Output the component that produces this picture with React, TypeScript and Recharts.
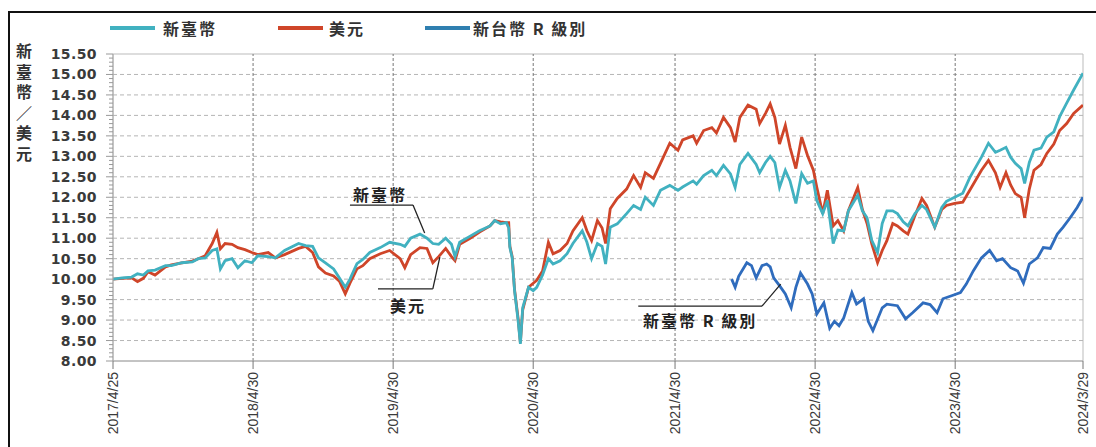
import React from 'react';
import { LineChart, Line, XAxis, YAxis, ReferenceLine, ReferenceArea, ReferenceDot } from 'recharts';

// x positions: months since 2017/4/25
const months = [
  0, 0.8, 1.6, 2.1, 2.6, 3.0, 3.6, 4.5, 5.0, 5.9,
  6.8, 7.3, 7.9, 8.5, 8.9, 9.2, 9.6, 10.2, 10.7, 11.3,
  11.9, 12.4, 13.3, 13.9, 14.7, 15.9, 16.5, 17.1, 17.6, 18.2,
  18.9, 19.4, 19.9, 20.3, 20.9, 21.4, 22.0, 22.9, 23.7, 24.6,
  25.0, 25.5, 26.3, 26.9, 27.4, 27.9, 28.5, 29.0, 29.3, 29.7,
  30.6, 31.4, 32.3, 32.7, 33.2, 33.7, 33.9, 34.0, 34.2, 34.4,
  34.7, 34.9, 35.1, 35.6, 36.0, 36.3, 36.8, 37.3, 37.7, 38.3,
  38.9, 39.4, 40.2, 40.6, 41.0, 41.5, 41.9, 42.2, 42.6, 43.2,
  44.0, 44.6, 45.2, 45.6, 46.3, 46.9, 47.7, 48.4, 48.8, 49.7,
  50.0, 50.6, 51.3, 51.7, 52.3, 52.9, 53.3, 53.7, 54.4, 55.1,
  55.4, 55.9, 56.3, 56.7, 57.1, 57.6, 58.0, 58.5, 59.0, 59.5,
  60.0, 60.3, 60.8, 61.2, 61.7, 62.1, 62.6, 63.0, 63.8, 64.2,
  64.6, 65.0, 65.5, 65.9, 66.3, 66.8, 67.2, 67.7, 68.1, 68.7,
  69.3, 69.7, 70.4, 71.0, 71.4, 72.1, 72.8, 73.4, 74.4, 75.0,
  75.6, 76.0, 76.5, 76.9, 77.3, 77.8, 78.1, 78.5, 78.9, 79.5,
  80.0, 80.6, 81.1, 81.7, 82.3, 83.1,
];

const twdValues = [
  10.00, 10.03, 10.05, 10.13, 10.10, 10.20, 10.22, 10.33, 10.33, 10.40,
  10.42, 10.50, 10.52, 10.70, 10.74, 10.25, 10.45, 10.50, 10.28, 10.45,
  10.40, 10.57, 10.55, 10.52, 10.70, 10.87, 10.82, 10.80, 10.52, 10.40,
  10.25, 10.03, 9.80, 10.00, 10.38, 10.48, 10.65, 10.77, 10.90, 10.85,
  10.80, 11.00, 11.10, 11.00, 10.87, 10.85, 11.00, 10.85, 10.55, 10.90,
  11.05, 11.18, 11.30, 11.43, 11.35, 11.38, 11.25, 10.77, 10.52, 9.72,
  9.00, 8.42, 9.30, 9.80, 9.72, 9.80, 10.10, 10.50, 10.37, 10.45,
  10.62, 10.87, 11.18, 10.90, 10.50, 10.87, 10.80, 10.37, 11.27, 11.35,
  11.60, 11.80, 11.70, 12.00, 11.80, 12.17, 12.29, 12.17, 12.25, 12.40,
  12.32, 12.53, 12.66, 12.53, 12.78, 12.57, 12.24, 12.80, 13.07, 12.80,
  12.60, 12.85, 13.00, 12.85, 12.24, 12.66, 12.40, 11.85, 12.58, 12.34,
  12.40, 11.92, 11.60, 11.92, 10.87, 11.20, 11.18, 11.67, 12.05, 11.67,
  11.50, 10.95, 10.65, 11.36, 11.67, 11.67, 11.60, 11.40, 11.30, 11.60,
  11.80, 11.70, 11.27, 11.75, 11.90, 12.00, 12.10, 12.48, 12.98, 13.32,
  13.10, 13.15, 13.22, 12.98, 12.83, 12.70, 12.34, 12.85, 13.15, 13.20,
  13.47, 13.60, 13.97, 14.30, 14.62, 15.03,
];

const usdValues = [
  10.00, 10.02, 10.03, 9.94, 10.02, 10.18, 10.10, 10.30, 10.35, 10.40,
  10.44, 10.50, 10.57, 10.87, 11.14, 10.74, 10.87, 10.85, 10.77, 10.72,
  10.65, 10.60, 10.65, 10.52, 10.60, 10.75, 10.80, 10.65, 10.30, 10.15,
  10.08, 9.95, 9.64, 9.90, 10.25, 10.33, 10.50, 10.62, 10.70, 10.50,
  10.28, 10.60, 10.77, 10.75, 10.40, 10.55, 10.75, 10.55, 10.45, 10.85,
  11.00, 11.15, 11.30, 11.43, 11.40, 11.38, 11.38, 10.80, 10.55, 9.75,
  9.05, 8.45, 9.25, 9.80, 9.90, 9.97, 10.20, 10.90, 10.62, 10.70,
  10.87, 11.18, 11.50, 11.18, 10.94, 11.43, 11.25, 10.87, 11.72, 11.97,
  12.20, 12.53, 12.24, 12.60, 12.46, 12.83, 13.32, 13.15, 13.40, 13.50,
  13.32, 13.63, 13.70, 13.57, 13.95, 13.70, 13.35, 13.95, 14.25, 14.15,
  13.80, 14.05, 14.28, 13.95, 13.30, 13.76, 13.22, 12.70, 13.47, 13.02,
  12.66, 12.24, 11.60, 12.17, 11.30, 11.43, 11.18, 11.67, 12.24, 11.70,
  11.36, 10.87, 10.40, 10.70, 10.94, 11.36, 11.30, 11.18, 11.10, 11.55,
  11.97, 11.80, 11.27, 11.70, 11.80, 11.85, 11.88, 12.17, 12.66, 12.90,
  12.60, 12.24, 12.60, 12.30, 12.09, 12.00, 11.50, 12.20, 12.66, 12.80,
  13.07, 13.30, 13.63, 13.80, 14.05, 14.25,
];

const rMonths = [
  53.0, 53.3, 53.6, 54.3, 54.7, 55.1, 55.6, 56.0, 56.3, 56.6,
  57.1, 57.6, 58.1, 58.5, 58.9, 59.5, 59.9, 60.3, 60.9, 61.4,
  61.8, 62.2, 62.6, 63.3, 63.7, 64.3, 64.7, 65.1, 65.9, 66.3,
  67.2, 67.9, 68.5, 69.4, 70.0, 70.6, 71.1, 71.9, 72.6, 73.1,
  73.7, 74.4, 75.1, 75.7, 76.2, 76.9, 77.5, 78.0, 78.5, 79.2,
  79.7, 80.3, 80.9, 81.4, 82.0, 82.6, 83.1,
];

const rValues = [
  10.00, 9.80, 10.07, 10.40, 10.33, 10.03, 10.33, 10.37, 10.30, 10.03,
  9.84, 9.64, 9.30, 9.80, 10.15, 9.88, 9.64, 9.15, 9.42, 8.80,
  8.97, 8.86, 9.05, 9.67, 9.39, 9.52, 8.97, 8.74, 9.30, 9.39,
  9.35, 9.03, 9.18, 9.42, 9.38, 9.18, 9.52, 9.60, 9.67, 9.88,
  10.20, 10.52, 10.70, 10.45, 10.50, 10.28, 10.20, 9.90, 10.37, 10.52,
  10.77, 10.75, 11.10, 11.27, 11.50, 11.75, 12.00,
];

const xTickMonths = [0, 12.0, 24.0, 36.0, 48.15, 60.15, 72.15, 83.1];
const xTickLabels = ['2017/4/25', '2018/4/30', '2019/4/30', '2020/4/30', '2021/4/30', '2022/4/30', '2023/4/30', '2024/3/29'];
const yMajorTicks = [8, 8.5, 9, 9.5, 10, 10.5, 11, 11.5, 12, 12.5, 13, 13.5, 14, 14.5, 15, 15.5];
const yAllTicks: number[] = [];
for (let i = 80; i <= 155; i++) yAllTicks.push(i / 10);

const seriesNames = ['新臺幣', '美元', '新台幣 R 級別'];
const annotationTexts = ['新臺幣', '美元', '新臺幣 R 級別'];
const yTitle = '新臺幣／美元';

const twdData = months.map((m, i) => ({ m, v: twdValues[i] }));
const usdData = months.map((m, i) => ({ m, v: usdValues[i] }));
const rData = rMonths.map((m, i) => ({ m, v: rValues[i] }));

const TEAL = '#41b1c0';
const RED = '#cf4529';
const BLUE = '#2f6cbd';
const CJK = "'Noto Sans CJK TC', 'Noto Sans CJK SC', sans-serif";

const YTick = (props: any) => {
  const { x, y, payload } = props;
  const v = payload.value;
  const major = Math.round(v * 10) % 5 === 0;
  return (
    <g>
      <line x1={x - (major ? 7 : 4)} x2={x} y1={y} y2={y} stroke="#999" strokeWidth={1} />
      {major && (
        <text x={x - 16} y={y + 5} textAnchor="end" fontFamily="'DejaVu Sans', sans-serif" fontWeight="bold" fontSize={14} letterSpacing={0.4} fill="#3a3a3a">
          {v.toFixed(2)}
        </text>
      )}
    </g>
  );
};

const XTick = (props: any) => {
  const { x, y, index } = props;
  const label = xTickLabels[index] ?? '';
  return (
    <g>
      <line x1={x} x2={x} y1={y} y2={y + 8} stroke="#777" strokeWidth={1} />
      <text
        x={x + 5}
        y={y + 11}
        transform={`rotate(-90 ${x + 5} ${y + 11})`}
        textAnchor="end"
        fontFamily="'Liberation Sans', Arial, sans-serif"
        fontSize={14}
        fill="#3a3a3a"
      >
        {label}
      </text>
    </g>
  );
};

const makeLabel = (text: string) => (p: any) => (
  <text x={p.cx} y={p.cy} textAnchor="middle" fontFamily={CJK} fontWeight={700} fontSize={16} letterSpacing={2} fill="#222">
    {text}
  </text>
);

export default function App() {
  const legendItems = [
    { color: TEAL, lineLeft: 110, textLeft: 163, name: seriesNames[0] },
    { color: RED, lineLeft: 278, textLeft: 329, name: seriesNames[1] },
    { color: '#2f7fb0', lineLeft: 425, textLeft: 473, name: seriesNames[2] },
  ];
  return (
    <div style={{ position: 'fixed', left: 0, top: 0, width: 1096, height: 447, overflow: 'hidden', background: '#fff' }}>
      <div style={{ position: 'absolute', left: 8, top: 11, width: 1100, height: 460, borderLeft: '2px solid #111', borderTop: '2px solid #111' }} />
      <div style={{ position: 'absolute', left: 0, top: 0 }}>
        <LineChart width={1096} height={447} margin={{ top: 54, right: 13, bottom: 6, left: 53 }}>
          <XAxis
            type="number"
            dataKey="m"
            domain={[0, 83.1]}
            ticks={xTickMonths}
            interval={0}
            height={80}
            tickSize={0}
            tickMargin={0}
            tick={<XTick />}
            axisLine={{ stroke: '#aaa' }}
            allowDataOverflow
          />
          <YAxis
            type="number"
            domain={[8, 15.5]}
            ticks={yAllTicks}
            interval={0}
            width={60}
            tickSize={0}
            tickMargin={0}
            tick={<YTick />}
            axisLine={{ stroke: '#aaa' }}
            allowDataOverflow
          />
          {yMajorTicks.slice(1, -1).map((v) => (
            <ReferenceLine key={'h' + v} y={v} stroke="#b5b5b5" strokeDasharray="4 3" />
          ))}
          {xTickMonths.slice(1, -1).map((t) => (
            <ReferenceLine key={'v' + t} x={t} stroke="#777" strokeDasharray="3 2" />
          ))}
          <ReferenceArea x1={0} x2={83.1} y1={8} y2={15.5} fill="none" fillOpacity={0} stroke="#bbb" strokeWidth={1} />
          <Line data={usdData} dataKey="v" stroke={RED} strokeWidth={2.8} dot={false} isAnimationActive={false} name={seriesNames[1]} />
          <Line data={twdData} dataKey="v" stroke={TEAL} strokeWidth={2.8} dot={false} isAnimationActive={false} name={seriesNames[0]} />
          <Line data={rData} dataKey="v" stroke={BLUE} strokeWidth={2.8} dot={false} isAnimationActive={false} name={seriesNames[2]} />
          <ReferenceLine segment={[{ x: 20.3, y: 11.81 }, { x: 25.7, y: 11.81 }]} stroke="#222" strokeWidth={1.3} />
          <ReferenceLine segment={[{ x: 25.7, y: 11.81 }, { x: 26.7, y: 11.13 }]} stroke="#222" strokeWidth={1.3} />
          <ReferenceLine segment={[{ x: 22.7, y: 9.76 }, { x: 27.4, y: 9.76 }]} stroke="#222" strokeWidth={1.3} />
          <ReferenceLine segment={[{ x: 27.4, y: 9.76 }, { x: 28.0, y: 10.54 }]} stroke="#222" strokeWidth={1.3} />
          <ReferenceLine segment={[{ x: 45.0, y: 9.34 }, { x: 55.6, y: 9.34 }]} stroke="#222" strokeWidth={1.3} />
          <ReferenceLine segment={[{ x: 55.6, y: 9.34 }, { x: 57.2, y: 9.88 }]} stroke="#222" strokeWidth={1.3} />
          <ReferenceDot x={22.88} y={11.91} r={1} shape={makeLabel(annotationTexts[0])} />
          <ReferenceDot x={25.28} y={9.2} r={1} shape={makeLabel(annotationTexts[1])} />
          <ReferenceDot x={50.3} y={8.83} r={1} shape={makeLabel(annotationTexts[2])} />
        </LineChart>
      </div>
      {legendItems.map((it) => (
        <React.Fragment key={it.name}>
          <div style={{ position: 'absolute', left: it.lineLeft, top: 26, width: 45, height: 4, background: it.color }} />
          <div style={{ position: 'absolute', left: it.textLeft, top: 16, lineHeight: '24px', fontFamily: CJK, fontWeight: 700, fontSize: 16, letterSpacing: 2, color: '#333', whiteSpace: 'nowrap' }}>
            {it.name}
          </div>
        </React.Fragment>
      ))}
      <div
        style={{
          position: 'absolute',
          left: 14,
          top: 43,
          writingMode: 'vertical-rl',
          textOrientation: 'upright',
          fontFeatureSettings: '"vert" 0, "vrt2" 0',
          fontFamily: CJK,
          fontWeight: 700,
          fontSize: 16,
          letterSpacing: 4.5,
          lineHeight: '19px',
          color: '#333',
        }}
      >
        {yTitle}
      </div>
    </div>
  );
}
